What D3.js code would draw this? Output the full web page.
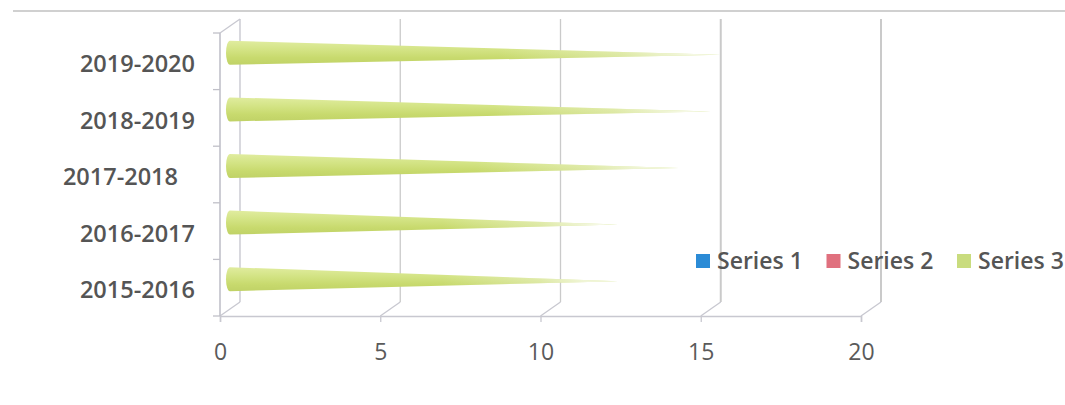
<!DOCTYPE html>
<html>
<head>
<meta charset="utf-8">
<script src="https://cdn.jsdelivr.net/npm/d3@7"></script>
<style>
  html, body { margin: 0; padding: 0; background: #ffffff; }
  svg { display: block; }
  text { font-family: "Open Sans", "DejaVu Sans", sans-serif; }
</style>
</head>
<body>
<svg id="chart" width="1065" height="405"></svg>
<script>
// Categories listed top to bottom as they appear on the vertical axis
const categories = ["2019-2020", "2018-2019", "2017-2018", "2016-2017", "2015-2016"];
// Series 3 values (cone lengths), same order as categories
const series3 = [15.3, 15.0, 14.0, 12.1, 12.1];
// Horizontal axis ticks
const xTicks = [0, 5, 10, 15, 20];
// Legend entries
const legendNames = ["Series 1", "Series 2", "Series 3"];
const legendColors = ["#2b8bd6", "#e0707e", "#c9dc7e"];

const svg = d3.select("#chart");
const defs = svg.append("defs");

// Front plane scales; the back wall is the front plane shifted by the depth offset
const xFront = d3.scaleLinear().domain([0, 20]).range([220, 861]);
const yFront = d3.scaleBand().domain(categories).range([33, 316]).padding(0);
const depth = { dx: 20, dy: -14 };
const xBack = v => xFront(v) + depth.dx;
const floorY = yFront.range()[1];
const topY = yFront.range()[0];

// Thin frame line across the top
svg.append("line")
  .attr("x1", 13).attr("x2", 1065).attr("y1", 11).attr("y2", 11)
  .attr("stroke", "#d0d0d0").attr("stroke-width", 2);

const grid = svg.append("g");

// Back wall gridlines
grid.selectAll("line.back").data(xTicks).join("line")
  .attr("class", "back")
  .attr("x1", d => xBack(d)).attr("x2", d => xBack(d))
  .attr("y1", topY + depth.dy).attr("y2", floorY + depth.dy)
  .attr("stroke", d => d === 0 ? "#c4c4cc" : "#cacaca")
  .attr("stroke-width", d => d >= 15 ? 2 : 1.3);

// Floor diagonals joining front ticks to the back wall
grid.selectAll("line.floor").data(xTicks).join("line")
  .attr("class", "floor")
  .attr("x1", d => xFront(d)).attr("y1", floorY)
  .attr("x2", d => xBack(d)).attr("y2", floorY + depth.dy)
  .attr("stroke", "#c8c8d0").attr("stroke-width", 1.3);

// Left side wall: front edge and top edge
grid.append("line")
  .attr("x1", xFront(0)).attr("x2", xFront(0))
  .attr("y1", topY).attr("y2", floorY)
  .attr("stroke", "#bcbcc6").attr("stroke-width", 1.5);
grid.append("line")
  .attr("x1", xFront(0)).attr("y1", topY)
  .attr("x2", xBack(0)).attr("y2", topY + depth.dy)
  .attr("stroke", "#c8c8d0").attr("stroke-width", 1.3);

// Category boundary ticks on the left wall
const boundaries = categories.map(c => yFront(c)).concat([floorY]);
grid.selectAll("line.ctick").data(boundaries).join("line")
  .attr("class", "ctick")
  .attr("x1", xFront(0) - 7).attr("x2", xFront(0))
  .attr("y1", d => d).attr("y2", d => d)
  .attr("stroke", "#c0c0c8").attr("stroke-width", 1.3);

// Cone shading: vertical body gradient plus a fade toward the tip
const body = defs.append("linearGradient").attr("id", "coneBody")
  .attr("x1", 0).attr("y1", 0).attr("x2", 0).attr("y2", 1);
[["0", "#e0ec9f"], ["0.35", "#d4e486"], ["0.7", "#c8da6e"], ["1", "#c0d266"]]
  .forEach(([o, c]) => body.append("stop").attr("offset", o).attr("stop-color", c));

const fade = defs.append("linearGradient").attr("id", "coneFade")
  .attr("x1", 0).attr("y1", 0).attr("x2", 1).attr("y2", 0);
[["0", 0], ["0.55", 0.0], ["0.8", 0.35], ["0.93", 0.75], ["1", 0.95]]
  .forEach(([o, a]) => fade.append("stop").attr("offset", o)
    .attr("stop-color", "#ffffff").attr("stop-opacity", a));

// Cones sit at mid depth
const xMid = v => xFront(v) + depth.dx / 2;
const midShift = depth.dy / 2 - 1.5;
const radius = 12;
const capRx = 4;

function conePath(cat, v) {
  const cy = yFront(cat) + yFront.bandwidth() / 2 + midShift;
  const x0 = xMid(0);
  const xt = xMid(v);
  const p = d3.path();
  p.moveTo(x0, cy - radius);
  p.lineTo(xt, cy + 2);
  p.lineTo(x0, cy + radius);
  return p.toString() + `A${capRx},${radius} 0 0 1 ${x0},${cy - radius}Z`;
}

const cones = svg.append("g");
const coneData = categories.map((c, i) => ({ cat: c, value: series3[i] }));
cones.selectAll("path.cone").data(coneData).join("path")
  .attr("class", "cone")
  .attr("d", d => conePath(d.cat, d.value))
  .attr("fill", "url(#coneBody)");
cones.selectAll("path.fade").data(coneData).join("path")
  .attr("class", "fade")
  .attr("d", d => conePath(d.cat, d.value))
  .attr("fill", "url(#coneFade)");

// Horizontal axis along the front floor edge
const xAxis = svg.append("g")
  .attr("transform", `translate(0,${floorY})`)
  .call(d3.axisBottom(xFront).tickValues(xTicks).tickSize(6).tickPadding(22).tickFormat(d3.format("d")));
xAxis.select(".domain").attr("stroke", "#c8c8d0").attr("stroke-width", 1.5);
xAxis.selectAll(".tick line").attr("stroke", "#c8c8d0").attr("stroke-width", 1.3);
xAxis.selectAll(".tick text")
  .attr("fill", "#5a5a5a").attr("font-size", "23px")
  .attr("font-family", "Open Sans, sans-serif");

// Category labels
svg.append("g").selectAll("text").data(categories).join("text")
  .attr("x", (d, i) => i === 2 ? 178 : 195)
  .attr("y", d => yFront(d) + yFront.bandwidth() / 2 + 2.5)
  .attr("dy", "0.35em")
  .attr("text-anchor", "end")
  .attr("fill", "#555555")
  .attr("font-size", "23.5px")
  .attr("font-weight", 600)
  .text(d => d);

// Legend
const legendX = d3.scalePoint().domain(legendNames).range([696, 957]);
const legend = svg.append("g").selectAll("g").data(legendNames).join("g")
  .attr("transform", d => `translate(${legendX(d)},254)`);
legend.append("rect")
  .attr("width", 14).attr("height", 14)
  .attr("fill", (d, i) => legendColors[i]);
legend.append("text")
  .attr("x", 21).attr("y", 7).attr("dy", "0.36em")
  .attr("fill", "#555555").attr("font-size", "23px").attr("font-weight", 600)
  .text(d => d);
</script>
</body>
</html>
